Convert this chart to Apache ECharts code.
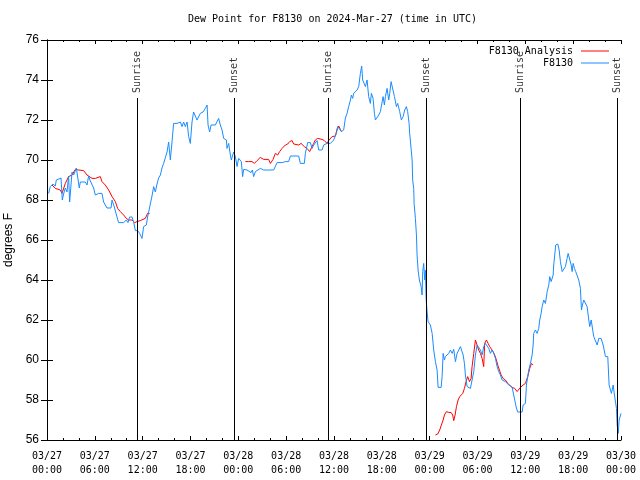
<!DOCTYPE html>
<html>
<head>
<meta charset="utf-8">
<script src="https://cdn.jsdelivr.net/npm/echarts@6/dist/echarts.min.js"></script>
<style>
html,body{margin:0;padding:0;background:#fff;}
#chart{width:640px;height:480px;}
</style>
</head>
<body>
<div id="chart"></div>
<script>
// Hours since 2024-03-27 00:00 UTC
const xTickLabels = ['03/27\n00:00','03/27\n06:00','03/27\n12:00','03/27\n18:00','03/28\n00:00','03/28\n06:00','03/28\n12:00','03/28\n18:00','03/29\n00:00','03/29\n06:00','03/29\n12:00','03/29\n18:00','03/30\n00:00'];
const yTickValues = [56,58,60,62,64,66,68,70,72,74,76];

const obsHours = [0.2,0.41,0.75,1.04,1.17,1.76,1.92,2.08,2.3,2.51,2.71,2.84,3.14,3.34,3.68,3.89,4.05,4.18,4.81,5.02,5.22,5.43,5.65,5.85,6.06,6.47,6.9,7.1,7.53,8.03,8.16,8.44,8.78,8.98,9.61,9.95,10.16,10.36,10.66,10.87,11.08,11.37,11.62,11.92,12.12,12.46,12.62,12.96,13.17,13.38,13.59,13.8,14.0,14.22,14.43,14.63,14.84,15.06,15.26,15.47,15.68,15.88,16.01,16.31,16.51,16.73,16.94,17.14,17.35,17.57,17.77,17.98,18.19,18.39,18.61,18.82,19.02,19.23,19.57,19.86,20.08,20.2,20.4,20.58,21.12,21.33,21.53,21.74,21.96,22.16,22.5,22.58,22.79,23.0,23.12,23.41,23.63,23.84,24.04,24.17,24.38,24.54,24.67,25.09,25.3,25.6,25.76,25.92,26.14,26.35,26.76,27.18,27.8,28.02,28.43,28.65,28.86,29.49,29.9,30.31,30.53,31.57,31.78,32.28,32.41,32.7,33.04,33.25,33.45,33.88,34.08,34.5,34.71,35.13,35.55,35.96,36.3,36.46,36.71,36.93,37.21,37.43,37.64,37.84,38.06,38.18,38.34,38.47,38.68,38.9,39.1,39.31,39.47,39.6,39.72,39.94,40.15,40.28,40.35,40.56,40.69,40.9,41.07,41.19,41.41,41.61,41.82,42.03,42.16,42.32,42.45,42.66,42.86,42.99,43.16,43.41,43.58,43.83,43.99,44.24,44.45,44.67,44.87,45.08,45.24,45.42,45.49,45.67,45.8,45.87,46.0,46.05,46.21,46.34,46.42,46.55,46.71,46.93,47.05,47.13,47.25,47.38,47.47,47.55,47.68,47.8,48.09,48.31,48.51,48.72,48.93,49.06,49.44,49.56,49.69,49.85,49.97,50.19,50.39,50.6,50.82,51.02,51.23,51.44,51.64,51.86,52.07,52.2,52.36,52.48,52.7,53.11,53.32,53.53,53.74,53.95,54.15,54.37,54.58,54.78,54.99,55.21,55.41,55.62,55.83,56.04,56.25,56.46,56.66,56.88,57.09,57.5,57.92,58.34,58.54,58.67,58.88,59.05,59.6,59.72,60.01,60.14,60.43,60.64,60.85,60.98,61.05,61.26,61.48,61.68,61.81,61.98,62.11,62.31,62.52,62.74,62.94,63.06,63.24,63.49,63.56,63.69,63.81,64.07,64.24,64.4,64.62,64.82,65.03,65.24,65.37,65.57,65.75,65.87,66.0,66.16,66.32,66.5,66.7,66.91,67.04,67.16,67.33,67.58,67.75,67.96,68.08,68.26,68.42,68.58,68.8,69.01,69.21,69.51,69.76,70.05,70.34,70.51,70.8,71.02,71.18,71.43,71.52,71.65,71.77,71.94,72.0];
const obsDewPoint = [68.33,68.67,68.8,68.7,69.0,69.1,68.0,68.3,68.6,68.4,69.2,67.9,69.4,69.25,69.6,69.5,68.6,68.9,68.9,68.75,69.2,68.95,68.9,68.6,68.25,68.33,68.33,67.9,67.6,67.6,68.0,67.65,67.15,66.87,66.87,67.0,66.87,67.15,67.15,66.9,66.47,66.47,66.33,66.08,66.67,66.75,67.15,67.8,68.2,68.67,68.4,68.8,69.1,69.25,69.6,69.83,69.9,70.4,70.9,70.0,70.9,71.83,71.9,71.83,71.9,71.9,71.67,71.9,71.67,71.9,71.17,70.83,71.9,72.4,72.33,72.0,72.0,72.33,72.4,72.58,72.75,71.75,71.4,71.75,71.75,71.83,72.08,71.75,71.5,71.08,71.0,70.58,70.83,70.25,70.0,70.4,70.17,69.67,70.08,70.17,69.92,69.17,69.53,69.5,69.58,69.37,69.5,69.17,69.42,69.5,69.58,69.5,69.5,69.58,69.5,69.5,69.87,69.87,69.92,69.92,70.2,70.2,69.83,69.83,70.33,70.87,70.87,70.58,70.75,70.97,70.5,70.5,70.75,70.83,70.83,71.0,71.33,71.67,71.7,71.42,71.5,72.1,72.33,72.67,73.0,73.25,73.08,73.33,73.42,73.5,73.67,74.33,74.7,74.0,73.92,73.67,74.0,74.0,73.17,72.83,73.33,73.08,72.33,72.0,71.92,72.25,72.42,72.42,73.17,72.75,73.17,73.58,73.0,73.33,73.92,73.92,73.17,72.67,72.83,72.42,72.0,72.17,72.5,72.67,72.42,71.83,71.33,70.58,70.0,69.0,68.58,67.83,67.08,66.25,65.25,64.5,64.0,63.67,63.25,64.42,64.83,64.0,64.5,63.08,62.4,61.92,61.75,61.33,60.5,59.92,59.5,58.63,58.63,59.17,60.33,60.0,60.17,60.08,60.33,60.5,60.33,60.53,59.92,60.33,60.33,60.67,60.75,60.25,59.83,59.25,58.67,58.58,59.0,59.42,60.25,60.75,60.83,60.5,60.25,60.67,60.83,60.75,60.58,60.33,60.5,60.33,60.08,59.67,59.42,59.25,59.0,58.92,58.75,58.65,58.65,58.0,57.6,57.4,57.4,57.75,57.83,58.75,59.5,59.83,60.25,60.75,61.33,61.5,61.33,61.58,62.0,62.33,62.67,63.0,62.83,63.42,63.75,64.17,63.92,64.25,64.75,65.25,65.75,65.8,65.5,64.92,64.42,64.33,64.67,65.08,65.33,65.3,64.75,64.42,64.83,64.58,64.42,64.33,64.0,63.58,62.5,62.75,63.0,63.0,62.67,62.0,61.67,62.0,61.92,61.17,61.08,60.75,61.08,61.08,60.75,60.17,60.17,58.75,58.33,58.75,58.25,57.58,56.75,56.33,57.0,57.25,57.33];

// null = gap in the analysis record
const anaHours = [0.63,1.04,1.67,1.88,2.3,2.71,3.14,3.55,3.96,4.59,5.02,5.65,6.06,6.27,6.69,6.9,7.31,7.73,8.16,8.57,8.86,9.2,9.61,9.95,10.24,10.66,10.99,11.29,11.71,11.92,12.33,12.62,12.87,
  18.0,
  24.88,25.3,25.72,26.01,26.35,26.76,27.18,27.8,28.02,28.36,28.65,28.93,29.18,29.49,29.9,30.19,30.44,30.74,30.94,31.57,31.87,32.28,32.62,32.95,33.25,33.45,33.66,33.95,34.2,34.5,34.79,35.13,35.33,35.76,35.96,36.17,36.39,36.59,36.8,36.93,
  42.0,
  48.72,49.01,49.26,49.47,49.69,49.85,50.1,50.39,50.69,50.89,51.02,51.19,51.36,51.57,51.77,51.95,52.15,52.36,52.57,52.77,52.99,53.2,53.32,53.53,53.74,53.95,54.15,54.37,54.58,54.78,54.9,55.12,55.33,55.53,55.75,55.96,56.16,56.37,56.54,56.75,56.96,57.21,57.5,57.79,58.04,58.34,58.67,58.97,59.05,59.18,59.39,59.72,60.01,60.3,60.55,60.77,60.98];
const anaDewPoint = [68.75,68.58,68.5,68.33,68.83,69.17,69.25,69.53,69.5,69.47,69.25,69.08,69.08,69.13,69.17,68.92,68.75,68.5,68.17,67.92,67.58,67.42,67.25,67.08,67.0,67.0,66.87,66.92,66.97,66.87,67.08,67.33,67.33,
  null,
  69.92,69.92,69.92,69.83,69.97,70.13,70.03,70.03,69.83,70.03,70.33,70.25,70.42,70.58,70.75,70.8,70.92,70.97,70.8,70.75,70.83,70.67,70.58,70.42,70.67,70.83,71.0,71.08,71.03,71.03,70.97,70.83,70.97,71.17,71.08,71.2,71.55,71.7,71.53,71.42,
  null,
  56.25,56.3,56.5,56.75,57.0,57.25,57.42,57.38,57.37,57.25,56.97,57.25,57.67,58.0,58.17,58.08,58.33,58.58,58.92,59.17,58.92,59.08,59.67,60.33,61.0,60.92,60.5,60.33,60.08,59.67,60.83,61.0,60.83,60.67,60.58,60.42,60.25,60.0,59.75,59.5,59.25,59.08,59.0,58.83,58.75,58.63,58.58,58.42,58.33,58.5,58.63,58.75,58.83,59.17,59.58,59.83,59.75];

const sunHours = [11.37,23.54,35.33,47.63,59.39,71.59];
const sunNames = ['Sunrise','Sunset','Sunrise','Sunset','Sunrise','Sunset'];

const MONO = 'DejaVu Sans Mono';
const SANS = 'Liberation Sans';
const LINE_TOP = 73.1;   // where the sun lines start (value units)
const LABEL_BASE = 73.35;

const obsData = obsHours.map((h,i)=>[h, obsDewPoint[i]]);
const anaData = anaHours.map((h,i)=>[h, anaDewPoint[i] === null ? '-' : anaDewPoint[i]]);
const sunLineData = sunHours.map(h=>[{coord:[h,56]},{coord:[h,LINE_TOP]}]);
const sunLabelData = sunHours.map((h,i)=>({name:sunNames[i], value:[h, LABEL_BASE]}));

const chart = echarts.init(document.getElementById('chart'), null, {renderer:'canvas'});
const axisBase = {
  min: 0, max: 72, interval: 6, type: 'value',
  axisLine: {show:true, lineStyle:{color:'#000', width:1}},
  axisTick: {show:true, inside:true, length:4, lineStyle:{color:'#000'}},
  minorTick: {show:true, splitNumber:3, length:2, lineStyle:{color:'#000'}},
  splitLine: {show:false}
};
const legendBase = {
  right: 31, align:'right', padding: 0, icon: 'rect', itemWidth: 28, itemHeight: 1,
  textStyle:{fontFamily:MONO, fontSize:10, color:'#000', padding:[0,3,0,0]}
};
chart.setOption({
  animation: false,
  backgroundColor: '#fff',
  title: {
    text: 'Dew Point for F8130 on 2024-Mar-27 (time in UTC)',
    left: 188, top: 14, padding: 0,
    textStyle: {fontFamily: MONO, fontSize: 10, fontWeight: 'normal', color: '#000'}
  },
  legend: [
    Object.assign({data:['F8130 Analysis'], top: 46}, legendBase),
    Object.assign({data:['F8130'], top: 58}, legendBase)
  ],
  grid: {left: 47, right: 19, top: 40, bottom: 40, containLabel: false, outerBoundsMode: 'none'},
  xAxis: [
    Object.assign({}, axisBase, {position:'bottom',
      axisLabel: {show:true, margin: 9, fontFamily: MONO, fontSize: 10, color:'#000', lineHeight: 14,
        formatter: v => xTickLabels[Math.round(v/6)]}}),
    Object.assign({}, axisBase, {position:'top', axisLabel:{show:false}})
  ],
  yAxis: [
    {type:'value', min:56, max:76, interval:2, position:'left',
     name:'degrees F', nameLocation:'middle', nameGap:28, nameRotate:90,
     nameTextStyle:{fontFamily:SANS, fontSize:12, color:'#000'},
     axisLine:{show:true, lineStyle:{color:'#000'}},
     axisTick:{show:true, inside:true, length:6, lineStyle:{color:'#000'}},
     axisLabel:{show:true, margin:8, fontFamily:SANS, fontSize:12, color:'#000',
       formatter: v => yTickValues.indexOf(v) >= 0 ? String(v) : ''},
     splitLine:{show:false}},
    {type:'value', min:56, max:76, interval:2, position:'right',
     axisLine:{show:true, lineStyle:{color:'#000'}},
     axisTick:{show:true, inside:true, length:6, lineStyle:{color:'#000'}},
     axisLabel:{show:false}, splitLine:{show:false}}
  ],
  series: [
    {name:'F8130 Analysis', type:'line', data: anaData, showSymbol:false, symbol:'none',
     connectNulls:false, lineStyle:{color:'#ff0000', width:1}, itemStyle:{color:'#ff0000'}, z:3},
    {name:'F8130', type:'line', data: obsData, showSymbol:false, symbol:'none',
     lineStyle:{color:'#1a8cff', width:1}, itemStyle:{color:'#1a8cff'}, z:4,
     markLine:{silent:true, symbol:['none','none'], label:{show:false},
       lineStyle:{color:'#000', width:1, type:'solid'}, data: sunLineData}},
    {name:'sun', type:'scatter', data: sunLabelData, symbolSize: 0, silent:true, z:5,
     label:{show:true, position:[0,0], rotate:90, align:'left', verticalAlign:'middle',
       formatter: p => p.name, fontFamily: MONO, fontSize: 10, color:'#000'}}
  ]
});
</script>
</body>
</html>
